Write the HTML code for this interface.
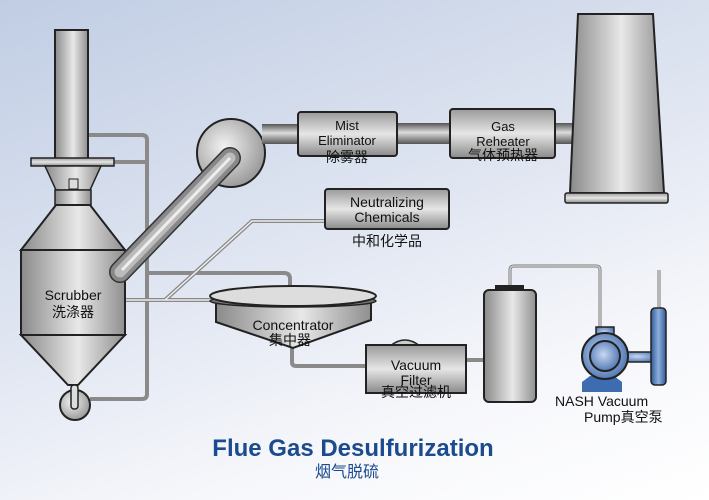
<!DOCTYPE html>
<html><head><meta charset="utf-8"><style>
html,body{margin:0;padding:0}
body{width:709px;height:500px;overflow:hidden;background:linear-gradient(160deg,#c0cde4 0%,#dfe5f1 45%,#f6f7fb 75%,#ffffff 100%)}
text{font-family:"Liberation Sans","Noto Sans CJK SC",sans-serif;fill:#111}
</style></head><body>
<svg width="709" height="500" viewBox="0 0 709 500" xmlns="http://www.w3.org/2000/svg" style="display:block">
<defs>
<linearGradient id="mh" x1="0" y1="0" x2="1" y2="0">
<stop offset="0" stop-color="#8a8a8a"/><stop offset="0.55" stop-color="#e8e8e8"/><stop offset="1" stop-color="#8f8f8f"/></linearGradient>
<linearGradient id="mv" x1="0" y1="0" x2="0" y2="1">
<stop offset="0" stop-color="#9a9a9a"/><stop offset="0.5" stop-color="#e6e6e6"/><stop offset="1" stop-color="#8a8a8a"/></linearGradient>
<linearGradient id="pv" x1="0" y1="0" x2="0" y2="1">
<stop offset="0" stop-color="#555"/><stop offset="0.45" stop-color="#ddd"/><stop offset="1" stop-color="#555"/></linearGradient>
<radialGradient id="ball" cx="0.4" cy="0.4" r="0.7"><stop offset="0" stop-color="#f2f2f2"/><stop offset="1" stop-color="#8f8f8f"/></radialGradient>
<linearGradient id="bl" x1="0" y1="0" x2="1" y2="0"><stop offset="0" stop-color="#2e5a9a"/><stop offset="0.5" stop-color="#8fb0dd"/><stop offset="1" stop-color="#2e5a9a"/></linearGradient>
<radialGradient id="pb" cx="0.45" cy="0.45" r="0.6"><stop offset="0" stop-color="#c8d8f2"/><stop offset="1" stop-color="#4a72b0"/></radialGradient>
</defs>

<g fill="none" stroke="#8a8a8a" stroke-width="4" stroke-linejoin="round">
<path d="M73 183 V140 Q73 135 78 135 H142 Q147 135 147 140 V394 Q147 399 142 399 H90"/>
<path d="M114 162 H147"/>
<path d="M147 273 H284 Q290 273 290 279 V290"/>
<path d="M292 340 V362 Q292 366 296 366 H367"/>
<path d="M466 360 H484"/>
</g>
<g fill="none" stroke="#777" stroke-width="3"><path d="M510 286 V270 Q510 266 514 266 H596 Q600 266 600 270 V330"/><path d="M659 270 V310"/></g>
<g fill="none" stroke="#ccc" stroke-width="1.5"><path d="M510 286 V270 Q510 266 514 266 H596 Q600 266 600 270 V330"/><path d="M659 270 V310"/></g>
<g fill="none" stroke="#888" stroke-width="4"><path d="M325 221 H252 L165 300"/><path d="M125 300 H212"/></g>
<g fill="none" stroke="#eee" stroke-width="1.5"><path d="M325 221 H252 L165 300"/><path d="M125 300 H212"/></g>

<rect x="55" y="30" width="33" height="130" fill="url(#mh)" stroke="#222" stroke-width="2"/>
<rect x="31" y="158" width="83" height="8" fill="url(#mv)" stroke="#222" stroke-width="1.5"/>
<polygon points="45,166 101,166 90,190 56,190" fill="url(#mh)" stroke="#222" stroke-width="1.5"/>
<rect x="55" y="190" width="36" height="15" fill="url(#mh)" stroke="#222" stroke-width="1.5"/>
<rect x="69" y="179" width="9" height="10" fill="#ddd" stroke="#222"/>
<polygon points="56,205 90,205 125,250 21,250" fill="url(#mh)" stroke="#222" stroke-width="2"/>
<rect x="21" y="250" width="104" height="85" fill="url(#mh)" stroke="#222" stroke-width="2"/>
<polygon points="21,335 125,335 78,385 68,385" fill="url(#mh)" stroke="#222" stroke-width="2"/>
<circle cx="75" cy="405" r="15" fill="url(#ball)" stroke="#222" stroke-width="2"/>
<rect x="71" y="385" width="7" height="24" rx="3" fill="#ddd" stroke="#222" stroke-width="1.5"/>
<text x="73" y="300" font-size="14" text-anchor="middle">Scrubber</text>
<text x="73" y="317" font-size="14" text-anchor="middle">洗涤器</text>

<circle cx="231" cy="153" r="34" fill="url(#ball)" stroke="#222" stroke-width="2"/>
<rect x="262" y="124" width="38" height="20" fill="url(#pv)"/>
<path d="M120 272 L230 158" stroke="#333" stroke-width="22" stroke-linecap="round" fill="none"/>
<path d="M120 272 L230 158" stroke="#888" stroke-width="19" stroke-linecap="round" fill="none"/>
<path d="M120 272 L230 158" stroke="#bbb" stroke-width="11" stroke-linecap="round" fill="none"/>
<path d="M122 270 L230 158" stroke="#eee" stroke-width="3" fill="none"/>

<rect x="397" y="123" width="55" height="21" fill="url(#pv)"/>
<rect x="555" y="123" width="18" height="21" fill="url(#pv)"/>
<rect x="298" y="112" width="99" height="44" rx="3" fill="url(#mv)" stroke="#222" stroke-width="2"/>
<text x="347" y="130" font-size="13" text-anchor="middle">Mist</text>
<text x="347" y="145" font-size="13" text-anchor="middle">Eliminator</text>
<text x="347" y="162" font-size="14" text-anchor="middle">除雾器</text>
<rect x="450" y="109" width="105" height="49" rx="3" fill="url(#mv)" stroke="#222" stroke-width="2"/>
<text x="503" y="131" font-size="13" text-anchor="middle">Gas</text>
<text x="503" y="146" font-size="13" text-anchor="middle">Reheater</text>
<text x="503" y="160" font-size="14" text-anchor="middle">气体预热器</text>

<polygon points="578,14 653,14 664,193 570,193" fill="url(#mh)" stroke="#222" stroke-width="2"/>
<rect x="565" y="193" width="103" height="10" rx="2" fill="url(#mv)" stroke="#222" stroke-width="1.5"/>

<rect x="325" y="189" width="124" height="40" rx="3" fill="url(#mv)" stroke="#222" stroke-width="2"/>
<text x="387" y="207" font-size="14" text-anchor="middle">Neutralizing</text>
<text x="387" y="222" font-size="14" text-anchor="middle">Chemicals</text>
<text x="387" y="246" font-size="14" text-anchor="middle">中和化学品</text>

<polygon points="216,303 371,303 371,320 293,348 216,322" fill="url(#mh)" stroke="#222" stroke-width="2"/>
<ellipse cx="293" cy="301" rx="83" ry="6" fill="#777" stroke="#222" stroke-width="1.5"/>
<ellipse cx="293" cy="296" rx="83" ry="10" fill="#ddd" stroke="#222" stroke-width="2"/>
<text x="293" y="330" font-size="14" text-anchor="middle">Concentrator</text>
<text x="290" y="345" font-size="14" text-anchor="middle">集中器</text>

<path d="M390 346 Q405 334 420 346 Z" fill="#ccc" stroke="#222" stroke-width="1.5"/>
<rect x="366" y="345" width="100" height="48" fill="url(#mv)" stroke="#222" stroke-width="2"/>
<text x="416" y="370" font-size="14" text-anchor="middle">Vacuum</text>
<text x="416" y="385" font-size="14" text-anchor="middle">Filter</text>
<text x="416" y="397" font-size="14" text-anchor="middle">真空过滤机</text>

<rect x="495" y="285" width="29" height="5" fill="#222"/>
<rect x="484" y="290" width="52" height="112" rx="5" fill="url(#mh)" stroke="#222" stroke-width="2"/>

<rect x="582" y="382" width="40" height="10" fill="#3d6cb0"/>
<polygon points="590,376 614,376 622,382 582,382" fill="#3d6cb0"/>
<rect x="620" y="352" width="38" height="10" fill="url(#pb)" stroke="#222" stroke-width="1.5"/>
<rect x="651" y="308" width="15" height="77" rx="4" fill="url(#bl)" stroke="#222" stroke-width="1.5"/>
<rect x="596" y="327" width="18" height="12" fill="url(#pb)" stroke="#222" stroke-width="1.5"/>
<circle cx="605" cy="356" r="23" fill="url(#pb)" stroke="#222" stroke-width="2"/>
<circle cx="605" cy="356" r="15" fill="url(#pb)" stroke="#222" stroke-width="2"/>
<text x="555" y="406" font-size="14">NASH Vacuum</text>
<text x="584" y="422" font-size="14">Pump真空泵</text>

<text x="353" y="456" font-size="24" font-weight="bold" text-anchor="middle" style="fill:#1b4b8e">Flue Gas Desulfurization</text>
<text x="347" y="477" font-size="16" text-anchor="middle" style="fill:#1b4b8e">烟气脱硫</text>
</svg>
</body></html>
